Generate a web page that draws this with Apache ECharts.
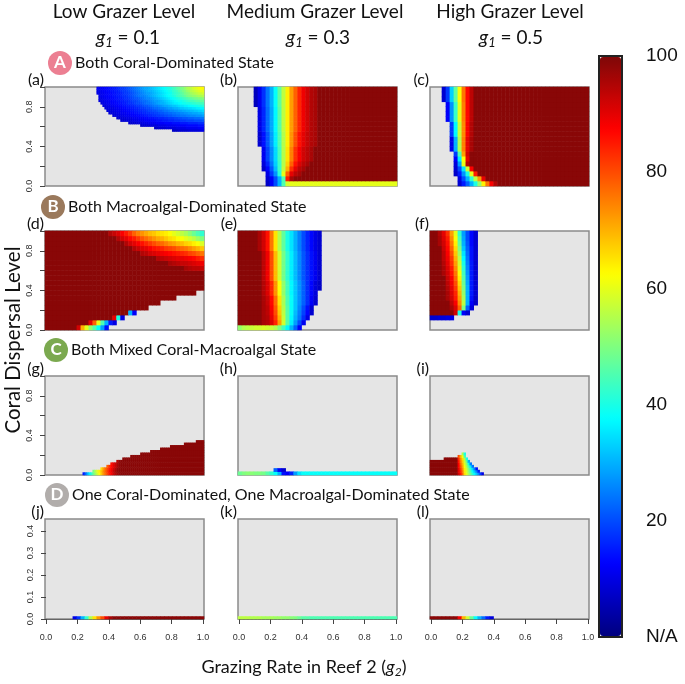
<!DOCTYPE html>
<html>
<head>
<meta charset="utf-8">
<script src="https://cdn.jsdelivr.net/npm/echarts@6/dist/echarts.min.js"></script>
<style>
  html, body { margin: 0; padding: 0; background: #fff; }
  #chart { width: 685px; height: 684px; }
</style>
</head>
<body>
<div id="chart"></div>
<script>
// percent per cell, columns run g2 0 -> 1, rows run bottom -> top, 0 = N/A
const panelA = [
  [], [], [], [], [], [], [], [], [], [], [], [], [], [], [], [], [], [], [], [], [], [],
  [0,0,0,0,0,0,0,0,0,0,0,0,0,0,0,0,0,0,0,0,0,0,0,0,0,0,0,0,0,0,0,0,0,0,0,0,0,0,0,0,0,0,0,0,0,0,0,0,0,0,0,0,0,0,0,0,0,0,0,0,0,0,0,0,7,7,7,8,8,8,8,8,9,9,9,9,9,9,10,10],
  [0,0,0,0,0,0,0,0,0,0,0,0,0,0,0,0,0,0,0,0,0,0,0,0,0,0,0,0,0,0,0,0,0,0,0,0,0,0,0,0,0,0,0,0,0,0,0,0,0,0,0,0,0,0,0,7,7,8,8,8,8,9,9,9,9,9,10,10,10,10,10,11,11,11,11,11,11,12,12,12],
  [0,0,0,0,0,0,0,0,0,0,0,0,0,0,0,0,0,0,0,0,0,0,0,0,0,0,0,0,0,0,0,0,0,0,0,0,0,0,0,0,0,0,0,0,0,0,0,0,7,8,8,8,8,9,9,9,9,10,10,10,10,11,11,11,11,11,12,12,12,12,12,13,13,13,13,13,13,14,14,14],
  [0,0,0,0,0,0,0,0,0,0,0,0,0,0,0,0,0,0,0,0,0,0,0,0,0,0,0,0,0,0,0,0,0,0,0,0,0,0,0,0,0,0,7,8,8,8,9,9,9,10,10,10,11,11,11,11,12,12,12,12,13,13,13,13,14,14,14,14,15,15,15,15,16,16,16,16,16,17,17,17],
  [0,0,0,0,0,0,0,0,0,0,0,0,0,0,0,0,0,0,0,0,0,0,0,0,0,0,0,0,0,0,0,0,0,0,0,0,0,0,8,8,8,9,9,9,10,10,10,11,11,11,12,12,12,13,13,13,14,14,14,15,15,15,16,16,16,17,17,17,18,18,18,19,19,19,19,20,20,20,20,21],
  [0,0,0,0,0,0,0,0,0,0,0,0,0,0,0,0,0,0,0,0,0,0,0,0,0,0,0,0,0,0,0,0,0,0,0,0,8,8,9,9,9,10,10,10,11,11,11,12,12,12,13,13,14,14,14,15,15,16,16,16,17,17,18,18,18,19,19,20,20,21,21,21,22,22,22,23,23,23,24,24],
  [0,0,0,0,0,0,0,0,0,0,0,0,0,0,0,0,0,0,0,0,0,0,0,0,0,0,0,0,0,0,0,0,0,0,8,9,9,9,10,10,11,11,11,12,12,12,13,13,14,14,15,15,16,16,17,17,18,18,19,19,20,20,21,21,22,22,23,23,24,24,24,25,25,26,26,26,27,27,27,28],
  [0,0,0,0,0,0,0,0,0,0,0,0,0,0,0,0,0,0,0,0,0,0,0,0,0,0,0,0,0,0,0,0,8,9,9,9,10,10,11,11,11,12,12,13,13,14,14,15,15,16,16,17,17,18,18,19,19,20,21,21,22,22,23,23,24,24,25,25,26,26,27,27,28,28,29,29,29,30,30,31],
  [0,0,0,0,0,0,0,0,0,0,0,0,0,0,0,0,0,0,0,0,0,0,0,0,0,0,0,0,0,0,0,9,9,9,10,10,11,11,11,12,12,13,13,14,14,15,15,16,16,17,17,18,19,19,20,20,21,22,22,23,24,24,25,26,26,27,27,28,28,29,29,30,30,31,31,32,32,33,33,34],
  [0,0,0,0,0,0,0,0,0,0,0,0,0,0,0,0,0,0,0,0,0,0,0,0,0,0,0,0,0,0,9,9,10,10,10,11,11,12,12,13,13,14,14,15,15,16,16,17,18,18,19,20,20,21,22,23,23,24,25,25,26,27,28,28,29,30,30,31,32,32,33,33,34,34,35,35,36,36,37,37],
  [0,0,0,0,0,0,0,0,0,0,0,0,0,0,0,0,0,0,0,0,0,0,0,0,0,0,0,0,0,9,9,10,10,11,11,12,12,13,13,14,14,15,15,16,16,17,18,18,19,20,21,21,22,23,24,25,25,26,27,28,29,29,30,31,32,32,33,34,35,35,36,36,37,38,38,39,39,40,40,41],
  [0,0,0,0,0,0,0,0,0,0,0,0,0,0,0,0,0,0,0,0,0,0,0,0,0,0,0,0,9,10,10,11,11,12,12,13,13,14,14,15,15,16,17,17,18,19,20,20,21,22,23,24,24,25,26,27,28,29,30,30,31,32,33,34,35,36,36,37,38,39,39,40,40,41,42,42,43,43,44,44],
  [0,0,0,0,0,0,0,0,0,0,0,0,0,0,0,0,0,0,0,0,0,0,0,0,0,0,0,9,10,10,11,11,12,12,13,13,14,14,15,15,16,16,17,18,19,19,20,21,22,23,23,24,25,26,27,28,28,29,30,31,32,33,34,35,36,37,38,39,39,40,41,42,43,44,44,45,46,46,47,47],
  [0,0,0,0,0,0,0,0,0,0,0,0,0,0,0,0,0,0,0,0,0,0,0,0,0,0,0,10,10,11,11,12,12,13,13,14,14,15,15,16,17,17,18,19,20,21,21,22,23,24,25,26,26,27,28,29,30,31,32,33,34,35,36,37,38,39,40,41,42,43,44,45,46,47,48,49,49,50,50,51],
  [0,0,0,0,0,0,0,0,0,0,0,0,0,0,0,0,0,0,0,0,0,0,0,0,0,0,0,10,11,11,12,12,13,13,14,14,15,15,16,17,17,18,19,20,21,22,23,24,25,25,26,27,28,29,30,31,32,33,34,35,36,37,38,39,40,41,43,44,45,46,47,49,50,51,52,52,53,54,54,55],
  [0,0,0,0,0,0,0,0,0,0,0,0,0,0,0,0,0,0,0,0,0,0,0,0,0,0,10,10,11,11,12,12,13,13,14,14,15,15,16,17,18,18,19,20,21,22,23,24,25,26,27,28,28,29,30,31,32,33,34,35,36,37,38,39,41,42,43,44,46,47,49,50,51,53,54,55,56,57,57,58],
  [0,0,0,0,0,0,0,0,0,0,0,0,0,0,0,0,0,0,0,0,0,0,0,0,0,0,10,11,11,12,12,13,13,14,14,15,15,16,17,18,18,19,20,21,22,23,24,25,26,27,28,29,30,30,31,32,33,34,35,36,37,38,39,40,42,43,44,46,47,49,50,52,53,55,56,57,58,59,60,60],
  [0,0,0,0,0,0,0,0,0,0,0,0,0,0,0,0,0,0,0,0,0,0,0,0,0,0,11,11,12,12,13,13,14,14,15,15,16,17,18,18,19,20,21,22,23,24,25,26,27,28,29,29,30,31,32,33,34,35,36,37,38,39,40,41,43,44,46,47,49,50,52,54,55,56,58,59,60,61,62,63]
];
const panelB = [
  [0,0,0,0,0,0,0,7,12,20,30,45,58,60,60,60,60,60,60,60,60,60,60,60,60,60,60,60,60,60,60,60,60,60,60,60,60,60,60,60],
  [0,0,0,0,0,0,0,8,12,20,30,45,85,96,99,99,99,99,99,99,99,99,99,99,99,99,99,99,99,99,99,99,99,99,99,99,99,99,99,99],
  [0,0,0,0,0,0,0,10,18,27,41,60,78,90,94,96,99,99,99,99,99,99,99,99,99,99,99,99,99,99,99,99,99,99,99,99,99,99,99,99],
  [0,0,0,0,0,0,7,13,21,31,43,56,70,83,90,94,96,99,99,99,99,99,99,99,99,99,99,99,99,99,99,99,99,99,99,99,99,99,99,99],
  [0,0,0,0,0,0,9,16,24,33,43,55,67,78,86,91,94,96,99,99,99,99,99,99,99,99,99,99,99,99,99,99,99,99,99,99,99,99,99,99],
  [0,0,0,0,0,0,11,19,26,34,44,55,65,75,83,88,92,94,96,99,99,99,99,99,99,99,99,99,99,99,99,99,99,99,99,99,99,99,99,99],
  [0,0,0,0,0,0,11,19,26,34,44,55,65,75,83,88,92,94,96,99,99,99,99,99,99,99,99,99,99,99,99,99,99,99,99,99,99,99,99,99],
  [0,0,0,0,0,0,11,19,26,34,44,55,65,75,83,88,92,94,96,99,99,99,99,99,99,99,99,99,99,99,99,99,99,99,99,99,99,99,99,99],
  [0,0,0,0,0,8,14,21,28,36,45,55,64,73,80,86,90,93,95,96,99,99,99,99,99,99,99,99,99,99,99,99,99,99,99,99,99,99,99,99],
  [0,0,0,0,0,8,14,21,28,36,45,55,64,73,80,86,90,93,95,96,99,99,99,99,99,99,99,99,99,99,99,99,99,99,99,99,99,99,99,99],
  [0,0,0,0,0,8,14,21,28,36,45,55,64,73,80,86,90,93,95,96,99,99,99,99,99,99,99,99,99,99,99,99,99,99,99,99,99,99,99,99],
  [0,0,0,0,0,10,16,23,29,37,46,56,64,72,78,84,89,92,95,96,99,99,99,99,99,99,99,99,99,99,99,99,99,99,99,99,99,99,99,99],
  [0,0,0,0,0,10,16,23,29,37,46,56,64,72,78,84,89,92,95,96,99,99,99,99,99,99,99,99,99,99,99,99,99,99,99,99,99,99,99,99],
  [0,0,0,0,0,10,16,23,29,37,46,56,64,72,78,84,89,92,95,96,99,99,99,99,99,99,99,99,99,99,99,99,99,99,99,99,99,99,99,99],
  [0,0,0,0,0,10,16,23,29,37,46,56,64,72,78,84,89,92,95,96,99,99,99,99,99,99,99,99,99,99,99,99,99,99,99,99,99,99,99,99],
  [0,0,0,0,0,10,16,23,29,37,46,56,64,72,78,84,89,92,95,96,99,99,99,99,99,99,99,99,99,99,99,99,99,99,99,99,99,99,99,99],
  [0,0,0,0,6,11,17,24,30,38,47,56,64,72,78,84,89,92,95,96,99,99,99,99,99,99,99,99,99,99,99,99,99,99,99,99,99,99,99,99],
  [0,0,0,0,6,11,17,24,30,38,47,56,64,72,78,84,89,92,95,96,99,99,99,99,99,99,99,99,99,99,99,99,99,99,99,99,99,99,99,99],
  [0,0,0,0,6,11,17,24,30,38,47,56,64,72,78,84,89,92,95,96,99,99,99,99,99,99,99,99,99,99,99,99,99,99,99,99,99,99,99,99],
  [0,0,0,0,6,11,17,24,30,38,47,56,64,72,78,84,89,92,95,96,99,99,99,99,99,99,99,99,99,99,99,99,99,99,99,99,99,99,99,99]
];
const panelC = [
  [0,0,0,0,0,0,0,8,15,22,30,40,52,64,76,88,95,99,99,99,99,99,99,99,99,99,99,99,99,99,99,99,99,99,99,99,99,99,99,99],
  [0,0,0,0,0,0,0,10,20,30,42,56,72,90,99,99,99,99,99,99,99,99,99,99,99,99,99,99,99,99,99,99,99,99,99,99,99,99,99,99],
  [0,0,0,0,0,0,7,15,27,40,60,85,99,99,99,99,99,99,99,99,99,99,99,99,99,99,99,99,99,99,99,99,99,99,99,99,99,99,99,99],
  [0,0,0,0,0,0,8,20,35,58,88,99,99,99,99,99,99,99,99,99,99,99,99,99,99,99,99,99,99,99,99,99,99,99,99,99,99,99,99,99],
  [0,0,0,0,0,0,9,28,60,95,99,99,99,99,99,99,99,99,99,99,99,99,99,99,99,99,99,99,99,99,99,99,99,99,99,99,99,99,99,99],
  [0,0,0,0,0,0,12,36,62,90,99,99,99,99,99,99,99,99,99,99,99,99,99,99,99,99,99,99,99,99,99,99,99,99,99,99,99,99,99,99],
  [0,0,0,0,0,0,18,45,72,92,99,99,99,99,99,99,99,99,99,99,99,99,99,99,99,99,99,99,99,99,99,99,99,99,99,99,99,99,99,99],
  [0,0,0,0,0,10,30,55,75,90,96,99,99,99,99,99,99,99,99,99,99,99,99,99,99,99,99,99,99,99,99,99,99,99,99,99,99,99,99,99],
  [0,0,0,0,0,10,30,55,75,90,96,99,99,99,99,99,99,99,99,99,99,99,99,99,99,99,99,99,99,99,99,99,99,99,99,99,99,99,99,99],
  [0,0,0,0,0,10,30,55,75,90,96,99,99,99,99,99,99,99,99,99,99,99,99,99,99,99,99,99,99,99,99,99,99,99,99,99,99,99,99,99],
  [0,0,0,0,0,18,37,57,74,88,95,99,99,99,99,99,99,99,99,99,99,99,99,99,99,99,99,99,99,99,99,99,99,99,99,99,99,99,99,99],
  [0,0,0,0,0,18,37,57,74,88,95,99,99,99,99,99,99,99,99,99,99,99,99,99,99,99,99,99,99,99,99,99,99,99,99,99,99,99,99,99],
  [0,0,0,0,0,18,37,57,74,88,95,99,99,99,99,99,99,99,99,99,99,99,99,99,99,99,99,99,99,99,99,99,99,99,99,99,99,99,99,99],
  [0,0,0,0,12,27,43,60,75,87,94,99,99,99,99,99,99,99,99,99,99,99,99,99,99,99,99,99,99,99,99,99,99,99,99,99,99,99,99,99],
  [0,0,0,0,12,27,43,60,75,87,94,99,99,99,99,99,99,99,99,99,99,99,99,99,99,99,99,99,99,99,99,99,99,99,99,99,99,99,99,99],
  [0,0,0,0,12,27,43,60,75,87,94,99,99,99,99,99,99,99,99,99,99,99,99,99,99,99,99,99,99,99,99,99,99,99,99,99,99,99,99,99],
  [0,0,0,0,12,27,43,60,75,87,94,99,99,99,99,99,99,99,99,99,99,99,99,99,99,99,99,99,99,99,99,99,99,99,99,99,99,99,99,99],
  [0,0,0,8,18,33,47,62,76,87,94,99,99,99,99,99,99,99,99,99,99,99,99,99,99,99,99,99,99,99,99,99,99,99,99,99,99,99,99,99],
  [0,0,0,8,18,33,47,62,76,87,94,99,99,99,99,99,99,99,99,99,99,99,99,99,99,99,99,99,99,99,99,99,99,99,99,99,99,99,99,99],
  [0,0,0,8,18,33,47,62,76,87,94,99,99,99,99,99,99,99,99,99,99,99,99,99,99,99,99,99,99,99,99,99,99,99,99,99,99,99,99,99]
];
const panelD = [
  [99,99,99,99,99,99,99,99,92,70,60,52,46,38,28,14],
  [99,99,99,99,99,99,99,99,99,99,99,90,78,60,45,30,15,10],
  [99,99,99,99,99,99,99,99,99,99,99,99,99,99,99,99,99,90,40,10],
  [99,99,99,99,99,99,99,99,99,99,99,99,99,99,99,99,99,99,99,99,99,30,12],
  [99,99,99,99,99,99,99,99,99,99,99,99,99,99,99,99,99,99,99,99,99,99,99,99,99,99],
  [99,99,99,99,99,99,99,99,99,99,99,99,99,99,99,99,99,99,99,99,99,99,99,99,99,99,99,99,99],
  [99,99,99,99,99,99,99,99,99,99,99,99,99,99,99,99,99,99,99,99,99,99,99,99,99,99,99,99,99,99,99,99,99],
  [99,99,99,99,99,99,99,99,99,99,99,99,99,99,99,99,99,99,99,99,99,99,99,99,99,99,99,99,99,99,99,99,99,99,99,99,99,99],
  [99,99,99,99,99,99,99,99,99,99,99,99,99,99,99,99,99,99,99,99,99,99,99,99,99,99,99,99,99,99,99,99,99,99,99,99,99,99,99,99],
  [99,99,99,99,99,99,99,99,99,99,99,99,99,99,99,99,99,99,99,99,99,99,99,99,99,99,99,99,99,99,99,99,99,99,99,99,99,99,99,99],
  [99,99,99,99,99,99,99,99,99,99,99,99,99,99,99,99,99,99,99,99,99,99,99,99,99,99,99,99,99,99,99,99,99,99,99,99,99,99,99,99],
  [99,99,99,99,99,99,99,99,99,99,99,99,99,99,99,99,99,99,99,99,99,99,99,99,99,99,99,99,99,99,99,99,99,99,99,99,99,99,99,99],
  [99,99,99,99,99,99,99,99,99,99,99,99,99,99,99,99,99,99,99,99,99,99,99,99,99,99,99,99,99,99,99,99,99,99,99,96,95,94,94,93],
  [99,99,99,99,99,99,99,99,99,99,99,99,99,99,99,99,99,99,99,99,99,99,99,99,99,99,99,99,99,99,99,96,95,94,93,93,92,91,90,89],
  [99,99,99,99,99,99,99,99,99,99,99,99,99,99,99,99,99,99,99,99,99,99,99,99,99,99,99,99,95,94,93,92,91,90,90,89,88,87,85,83],
  [99,99,99,99,99,99,99,99,99,99,99,99,99,99,99,99,99,99,99,99,99,99,99,99,95,94,92,91,90,89,88,87,86,85,84,83,81,80,78,76],
  [99,99,99,99,99,99,99,99,99,99,99,99,99,99,99,99,99,99,99,99,99,99,95,93,91,90,88,86,85,84,82,81,80,78,77,76,74,72,70,68],
  [99,99,99,99,99,99,99,99,99,99,99,99,99,99,99,99,99,99,99,99,95,92,90,88,86,84,82,80,78,77,75,73,72,70,69,67,66,64,62,59],
  [99,99,99,99,99,99,99,99,99,99,99,99,99,99,99,99,99,99,95,92,90,87,85,82,79,77,75,73,71,70,68,66,65,63,62,60,58,56,53,50],
  [99,99,99,99,99,99,99,99,99,99,99,99,99,99,99,99,95,93,91,88,85,82,78,75,73,71,69,68,66,65,64,62,60,58,56,54,51,48,45,42]
];
const panelE = [
  [52,55,56,57,58,58,59,58,57,55,50,44,37,30,22,12],
  [99,99,99,99,99,99,96,95,91,84,72,58,46,36,28,20,11],
  [99,99,99,99,99,99,96,95,90,82,70,57,46,37,30,24,17,10],
  [99,99,99,99,99,99,96,94,89,80,68,56,46,38,31,25,19,13,8],
  [99,99,99,99,99,99,96,94,88,79,67,55,46,38,32,26,20,14,8],
  [99,99,99,99,99,99,96,93,87,77,65,54,45,38,32,27,22,17,12,8],
  [99,99,99,99,99,99,96,93,87,77,65,54,45,38,32,27,22,17,12,8],
  [99,99,99,99,99,99,95,91,84,73,62,52,44,37,32,27,22,17,13,9],
  [99,99,99,99,99,99,95,91,84,73,62,52,44,37,32,27,22,17,13,9,7],
  [99,99,99,99,99,99,95,91,84,73,62,52,44,37,32,27,22,17,13,9,7],
  [99,99,99,99,99,99,94,89,80,69,58,49,42,36,31,26,21,17,14,11,8],
  [99,99,99,99,99,99,94,89,80,69,58,49,42,36,31,26,21,17,14,11,8],
  [99,99,99,99,99,99,94,89,80,69,58,49,42,36,31,26,21,17,14,11,8],
  [99,99,99,99,99,99,94,89,80,69,58,49,42,36,31,26,21,17,14,11,8],
  [99,99,99,99,99,99,94,89,80,69,58,49,42,36,31,26,21,17,14,11,8],
  [99,99,99,99,99,99,94,89,80,69,58,49,42,36,31,26,21,17,14,11,8],
  [99,99,99,99,99,96,92,86,76,65,55,47,40,35,30,25,20,16,13,10,8],
  [99,99,99,99,99,96,92,86,76,65,55,47,40,35,30,25,20,16,13,10,8],
  [99,99,99,99,99,96,92,86,76,65,55,47,40,35,30,25,20,16,13,10,8],
  [99,99,99,99,99,96,92,86,76,65,55,47,40,35,30,25,20,16,13,10,8]
];
const panelF = [
  [],
  [],
  [8,8,9,9,10,10],
  [99,99,99,99,99,99,92,40,12,8],
  [99,99,99,99,99,96,91,78,50,22,9],
  [99,99,99,99,99,94,88,74,56,30,12,7],
  [99,99,99,99,96,92,85,72,54,30,14,7],
  [99,99,99,99,96,91,84,70,52,30,15,8],
  [99,99,99,99,95,90,82,68,50,30,15,8],
  [99,99,99,99,94,89,80,66,48,29,15,8],
  [99,99,99,99,93,88,78,64,46,28,15,8],
  [99,99,99,96,92,86,76,62,44,27,15,8],
  [99,99,99,96,91,85,74,60,42,26,15,8],
  [99,99,99,95,90,83,72,58,40,25,15,8],
  [99,99,99,94,89,82,70,56,37,24,14,8],
  [99,99,99,94,88,80,68,53,35,23,14,8],
  [99,99,99,93,87,78,66,50,32,22,14,8],
  [99,99,96,92,86,76,64,47,30,21,13,8],
  [99,99,96,91,85,74,62,45,29,20,13,8],
  [99,99,95,90,83,72,60,42,28,20,13,8]
];
const panelG = [
  [0,0,0,0,0,0,0,0,0,0,0,0,0,0,0,0,0,0,0,15,22,30,36,42,48,53,58,62,68,73,77,81,85,88,92,95,97,98,99,99,99,99,99,99,99,99,99,99,99,99,99,99,99,99,99,99,99,99,99,99,99,99,99,99,99,99,99,99,99,99,99,99,99,99,99,99,99,99,99,99],
  [0,0,0,0,0,0,0,0,0,0,0,0,0,0,0,0,0,0,0,0,0,0,0,0,50,55,60,64,69,74,78,82,86,89,93,96,98,99,99,99,99,99,99,99,99,99,99,99,99,99,99,99,99,99,99,99,99,99,99,99,99,99,99,99,99,99,99,99,99,99,99,99,99,99,99,99,99,99,99,99],
  [0,0,0,0,0,0,0,0,0,0,0,0,0,0,0,0,0,0,0,0,0,0,0,0,0,0,0,0,66,72,77,81,85,88,92,95,98,99,99,99,99,99,99,99,99,99,99,99,99,99,99,99,99,99,99,99,99,99,99,99,99,99,99,99,99,99,99,99,99,99,99,99,99,99,99,99,99,99,99,99],
  [0,0,0,0,0,0,0,0,0,0,0,0,0,0,0,0,0,0,0,0,0,0,0,0,0,0,0,0,0,0,0,78,83,87,90,93,96,98,99,99,99,99,99,99,99,99,99,99,99,99,99,99,99,99,99,99,99,99,99,99,99,99,99,99,99,99,99,99,99,99,99,99,99,99,99,99,99,99,99,99],
  [0,0,0,0,0,0,0,0,0,0,0,0,0,0,0,0,0,0,0,0,0,0,0,0,0,0,0,0,0,0,0,0,0,86,90,93,96,98,99,99,99,99,99,99,99,99,99,99,99,99,99,99,99,99,99,99,99,99,99,99,99,99,99,99,99,99,99,99,99,99,99,99,99,99,99,99,99,99,99,99],
  [0,0,0,0,0,0,0,0,0,0,0,0,0,0,0,0,0,0,0,0,0,0,0,0,0,0,0,0,0,0,0,0,0,0,0,0,95,98,99,99,99,99,99,99,99,99,99,99,99,99,99,99,99,99,99,99,99,99,99,99,99,99,99,99,99,99,99,99,99,99,99,99,99,99,99,99,99,99,99,99],
  [0,0,0,0,0,0,0,0,0,0,0,0,0,0,0,0,0,0,0,0,0,0,0,0,0,0,0,0,0,0,0,0,0,0,0,0,0,0,0,99,99,99,99,99,99,99,99,99,99,99,99,99,99,99,99,99,99,99,99,99,99,99,99,99,99,99,99,99,99,99,99,99,99,99,99,99,99,99,99,99],
  [0,0,0,0,0,0,0,0,0,0,0,0,0,0,0,0,0,0,0,0,0,0,0,0,0,0,0,0,0,0,0,0,0,0,0,0,0,0,0,0,0,0,0,99,99,99,99,99,99,99,99,99,99,99,99,99,99,99,99,99,99,99,99,99,99,99,99,99,99,99,99,99,99,99,99,99,99,99,99,99],
  [0,0,0,0,0,0,0,0,0,0,0,0,0,0,0,0,0,0,0,0,0,0,0,0,0,0,0,0,0,0,0,0,0,0,0,0,0,0,0,0,0,0,0,0,0,0,0,0,99,99,99,99,99,99,99,99,99,99,99,99,99,99,99,99,99,99,99,99,99,99,99,99,99,99,99,99,99,99,99,99,99,99],
  [0,0,0,0,0,0,0,0,0,0,0,0,0,0,0,0,0,0,0,0,0,0,0,0,0,0,0,0,0,0,0,0,0,0,0,0,0,0,0,0,0,0,0,0,0,0,0,0,0,0,0,0,0,99,99,99,99,99,99,99,99,99,99,99,99,99,99,99,99,99,99,99,99,99,99,99,99,99,99,99,99,99,99,99],
  [0,0,0,0,0,0,0,0,0,0,0,0,0,0,0,0,0,0,0,0,0,0,0,0,0,0,0,0,0,0,0,0,0,0,0,0,0,0,0,0,0,0,0,0,0,0,0,0,0,0,0,0,0,0,0,0,0,0,99,99,99,99,99,99,99,99,99,99,99,99,99,99,99,99,99,99,99,99,99,99],
  [0,0,0,0,0,0,0,0,0,0,0,0,0,0,0,0,0,0,0,0,0,0,0,0,0,0,0,0,0,0,0,0,0,0,0,0,0,0,0,0,0,0,0,0,0,0,0,0,0,0,0,0,0,0,0,0,0,0,0,0,0,0,0,99,99,99,99,99,99,99,99,99,99,99,99,99,99,99,99,99],
  [0,0,0,0,0,0,0,0,0,0,0,0,0,0,0,0,0,0,0,0,0,0,0,0,0,0,0,0,0,0,0,0,0,0,0,0,0,0,0,0,0,0,0,0,0,0,0,0,0,0,0,0,0,0,0,0,0,0,0,0,0,0,0,0,0,0,0,0,0,0,99,99,99,99,99,99,99,99,99,99],
  [0,0,0,0,0,0,0,0,0,0,0,0,0,0,0,0,0,0,0,0,0,0,0,0,0,0,0,0,0,0,0,0,0,0,0,0,0,0,0,0,0,0,0,0,0,0,0,0,0,0,0,0,0,0,0,0,0,0,0,0,0,0,0,0,0,0,0,0,0,0,0,0,0,0,0,0,99,99,99,99]
];
const panelH = [
  [48,50,51,51,50,50,49,46,42,38,30,14,12,16,28,35,38,38,38,38,38,38,38,38,38,38,38,38,38,38,38,38,38,38,38,38,38,38,38,38],
  [0,0,0,0,0,0,0,0,0,22,12,8]
];
const panelI = [
  [99,99,99,99,99,99,99,99,99,99,99,99,99,99,92,86,78,66,60,54,48,42,37,32,26,18,10],
  [99,99,99,99,99,99,99,99,99,99,99,99,99,99,90,84,76,65,59,52,45,38,32,25,15],
  [99,99,99,99,99,99,99,99,99,99,99,99,99,99,90,82,74,64,58,50,42,34,25,14],
  [99,99,99,99,99,99,99,99,99,99,99,99,99,99,88,80,72,62,55,46,36,24],
  [99,99,99,99,99,99,99,99,99,99,99,99,99,99,88,78,70,60,52,40,25],
  [99,99,99,99,99,99,99,99,99,99,99,99,99,99,86,76,68,58,48,30],
  [0,0,0,0,0,0,0,99,99,99,99,99,99,99,84,74,66,56,40],
  [0,0,0,0,0,0,0,0,0,0,0,0,0,0,80,70,62,45],
  [0,0,0,0,0,0,0,0,0,0,0,0,0,0,0,0,55,40]
];
const panelJ = [
  [0,0,0,0,0,0,0,10,18,30,42,55,65,73,80,90,96,99,99,99,99,99,99,99,99,99,99,99,99,99,99,99,99,99,99,99,99,99,99,99]
];
const panelK = [
  [56,56,56,55,55,55,54,54,54,53,53,52,52,51,50,48,46,46,45,45,45,45,45,45,45,45,45,45,45,45,45,45,45,45,45,45,45,45,45,45]
];
const panelL = [
  [99,99,99,99,99,99,99,88,70,58,48,38,30,23,15,9]
];

const panelRows = [
  [panelA, panelB, panelC],
  [panelD, panelE, panelF],
  [panelG, panelH, panelI],
  [panelJ, panelK, panelL]
];
const panelCols = [[80, 40, 40], [40, 40, 40], [80, 40, 80], [40, 40, 40]];
const panelLevels = [[40, 20, 20], [20, 20, 20], [40, 30, 40], [40, 40, 40]];
const panelLetters = ["a", "b", "c", "d", "e", "f", "g", "h", "i", "j", "k", "l"];
const grazerTitles = ["Low Grazer Level", "Medium Grazer Level", "High Grazer Level"];
const grazerLevels = ["0.1", "0.3", "0.5"];
const stateLabels = [
  "Both Coral-Dominated State",
  "Both Macroalgal-Dominated State",
  "Both Mixed Coral-Macroalgal State",
  "One Coral-Dominated, One Macroalgal-Dominated State"
];
const stateLetters = ["A", "B", "C", "D"];
const stateColors = ["#ec7f92", "#9a795c", "#7ba94f", "#b1adab"];
const jetColors = ["#00007f", "#0000ff", "#007fff", "#00ffff", "#7fff7f", "#ffff00", "#ff7f00", "#ff0000", "#7f0808"];

const lefts = [45, 238, 430];
const tops = [87, 231, 376, 519];
const statePos = [[60, 63], [53, 207], [56, 350], [57, 495]];
const textFont = "Lato";
const tickColor = "#444";

const grids = [];
const xAxes = [];
const yAxes = [];
const series = [];
const graphics = [];

function addGrid(grid, xAxis, yAxis) {
  grids.push(grid);
  xAxes.push(Object.assign({ gridIndex: grids.length - 1 }, xAxis));
  yAxes.push(Object.assign({ gridIndex: grids.length - 1 }, yAxis));
  return grids.length - 1;
}

function labelText(text, x, y, size, extra) {
  graphics.push({
    type: "text",
    x: x,
    y: y,
    silent: true,
    style: Object.assign({
      text: text,
      fontFamily: textFont,
      fontSize: size,
      fill: "#111",
      align: "center",
      verticalAlign: "middle"
    }, extra || {})
  });
}

panelRows.forEach(function (row, r) {
  row.forEach(function (rows, c) {
    const left = lefts[c];
    const top = tops[r];
    const height = r === 3 ? 100 : 99;
    const xCount = panelCols[r][c];
    const yCount = panelLevels[r][c];

    const xCats = [];
    for (let i = 0; i < xCount; i++) xCats.push(i);
    const yCats = [];
    for (let i = 0; i < yCount; i++) yCats.push(i);

    const idx = addGrid(
      { left: left, top: top, width: 159, height: height, show: true,
        backgroundColor: "#e5e5e5", borderColor: "#8a8a8a", borderWidth: 1.5 },
      { type: "category", data: xCats, show: false },
      { type: "category", data: yCats, show: false }
    );

    const data = [];
    rows.forEach(function (cells, y) {
      cells.forEach(function (v, x) {
        if (v > 0 && x < xCount) data.push([x, y, v]);
      });
    });
    series.push({
      type: "heatmap",
      xAxisIndex: idx,
      yAxisIndex: idx,
      data: data,
      silent: true,
      progressive: 0,
      animation: false
    });

    const letter = panelLetters[r * 3 + c];
    labelText("(" + letter + ")", left - 1, top - 7, 16, { align: "right" });

    // axes with ticks only on the outer panels
    const showX = r === 3;
    const showY = c === 0;
    if (showX || showY) {
      addGrid(
        r === 3
          ? { left: left + 1, top: 531, width: 157, height: 88 }
          : { left: left, top: top, width: 159, height: 99 },
        {
          type: "value", min: 0, max: 1, interval: 0.2, show: showX,
          axisLine: { show: true, lineStyle: { color: "#666" } },
          axisTick: { show: true, length: 5, lineStyle: { color: tickColor } },
          axisLabel: {
            color: "#333", fontSize: 9, margin: 14, fontFamily: "Liberation Sans",
            showMinLabel: true, showMaxLabel: true, hideOverlap: false,
            formatter: function (v) { return v.toFixed(1); }
          },
          splitLine: { show: false }
        },
        {
          type: "value", min: 0, max: r === 3 ? 0.4 : 1, interval: r === 3 ? 0.1 : 0.2, show: showY,
          axisLine: { show: false },
          axisTick: { show: true, length: 5, lineStyle: { color: tickColor } },
          axisLabel: {
            color: "#333", fontSize: 9, margin: 11, rotate: 90, fontFamily: "Liberation Sans",
            showMinLabel: true, showMaxLabel: true, hideOverlap: false,
            formatter: function (v) {
              if (r === 3) return v.toFixed(1);
              return Math.round(v * 10) % 4 === 0 ? v.toFixed(1) : "";
            }
          },
          splitLine: { show: false }
        }
      );
    }
  });
});

// colour bar axis, the bar itself is the visualMap
addGrid(
  { left: 599, top: 56, width: 23, height: 581, show: true, borderColor: "#222", borderWidth: 2, backgroundColor: "transparent" },
  { type: "value", min: 0, max: 1, show: false },
  {
    type: "value", min: 0, max: 100, interval: 20, position: "right",
    axisLine: { show: false },
    axisTick: { show: true, length: 12, lineStyle: { color: "#222", width: 1.5 } },
    axisLabel: {
      color: "#111", fontSize: 19, margin: 24, fontFamily: "Liberation Sans",
      showMinLabel: true, showMaxLabel: true,
      formatter: function (v) { return v === 0 ? "N/A" : String(v); }
    },
    splitLine: { show: false }
  }
);

grazerTitles.forEach(function (t, i) {
  labelText(t, [124, 315, 510][i], 12, 19);
  labelText("{i|g}{s|1}{n| = " + grazerLevels[i] + "}", [128, 318, 511][i], 38, 19, {
    rich: {
      i: { fontFamily: textFont, fontStyle: "italic", fontSize: 19, lineHeight: 22 },
      s: { fontFamily: textFont, fontStyle: "italic", fontSize: 13, verticalAlign: "bottom", lineHeight: 15 },
      n: { fontFamily: textFont, fontSize: 19, lineHeight: 22 }
    }
  });
});

stateLabels.forEach(function (t, i) {
  const p = statePos[i];
  graphics.push({ type: "circle", silent: true, shape: { cx: p[0], cy: p[1], r: 12 }, style: { fill: stateColors[i] } });
  labelText(stateLetters[i], p[0], p[1], 17, { fill: "#fff", fontWeight: "bold" });
  labelText(t, p[0] + 15, p[1], 16, { align: "left" });
});

labelText("Coral Dispersal Level", 13, 340, 20.5);
graphics[graphics.length - 1].rotation = Math.PI / 2;

labelText("{n|Grazing Rate in Reef 2 (}{i|g}{s|2}{n|)}", 304, 667, 18, {
  rich: {
    i: { fontFamily: textFont, fontStyle: "italic", fontSize: 18, lineHeight: 22 },
    s: { fontFamily: textFont, fontStyle: "italic", fontSize: 12, verticalAlign: "bottom", lineHeight: 14 },
    n: { fontFamily: textFont, fontSize: 18, lineHeight: 22 }
  }
});

const chart = echarts.init(document.getElementById("chart"));
chart.setOption({
  animation: false,
  backgroundColor: "#fff",
  grid: grids,
  xAxis: xAxes,
  yAxis: yAxes,
  visualMap: {
    type: "continuous",
    min: 0,
    max: 100,
    dimension: 2,
    calculable: false,
    hoverLink: false,
    left: 600,
    top: 57,
    padding: 0,
    itemWidth: 21,
    itemHeight: 579,
    inRange: { color: jetColors }
  },
  series: series,
  graphic: { elements: graphics }
});
</script>
</body>
</html>
